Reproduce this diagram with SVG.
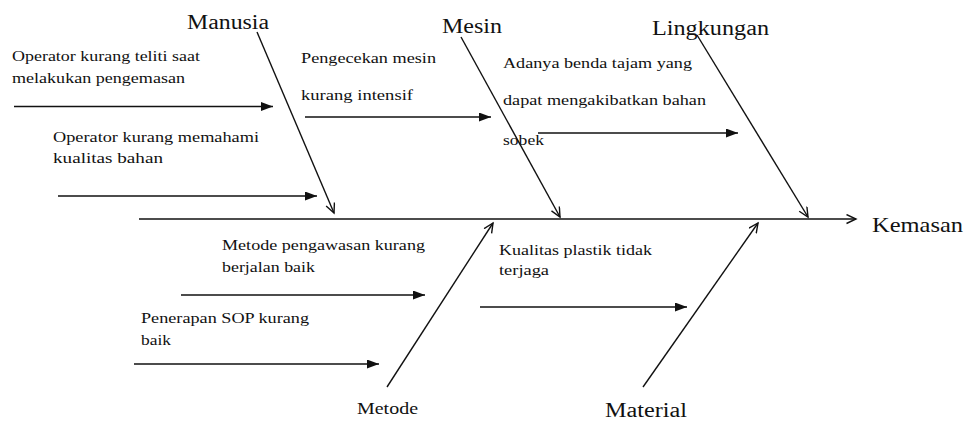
<svg xmlns="http://www.w3.org/2000/svg" width="964" height="421" viewBox="0 0 964 421">
<style>
.s{font-size:15.5px;}
.c{font-size:20px;}
.ln{stroke:#111;stroke-width:1.4;fill:none;}
</style>
<defs>
<marker id="tri" markerUnits="userSpaceOnUse" markerWidth="13" markerHeight="10" refX="12" refY="4.5" orient="auto">
<path d="M0,0 L12,4.5 L0,9 z" fill="#111"/>
</marker>
<marker id="open" markerUnits="userSpaceOnUse" markerWidth="14" markerHeight="14" refX="10" refY="5" orient="auto">
<path d="M0.5,0.5 L10,5 L0.5,9.5" fill="none" stroke="#111" stroke-width="1.4"/>
</marker>
</defs>
<rect width="964" height="421" fill="#fff"/>
<g id="connectors">
<line class="ln" x1="139" y1="219" x2="856" y2="219" marker-end="url(#open)"/>
<line class="ln" x1="257" y1="32" x2="334" y2="213" marker-end="url(#open)"/>
<line class="ln" x1="461" y1="37" x2="560" y2="217" marker-end="url(#open)"/>
<line class="ln" x1="697" y1="35" x2="808" y2="217" marker-end="url(#open)"/>
<line class="ln" x1="387" y1="387" x2="493" y2="223" marker-end="url(#open)"/>
<line class="ln" x1="643" y1="387" x2="758" y2="223" marker-end="url(#open)"/>
<line class="ln" x1="14" y1="106.5" x2="273" y2="106.5" marker-end="url(#tri)"/>
<line class="ln" x1="58" y1="196" x2="317" y2="196" marker-end="url(#tri)"/>
<line class="ln" x1="305" y1="117" x2="491" y2="117" marker-end="url(#tri)"/>
<line class="ln" x1="538" y1="133" x2="738" y2="133" marker-end="url(#tri)"/>
<line class="ln" x1="181" y1="295" x2="425" y2="295" marker-end="url(#tri)"/>
<line class="ln" x1="134" y1="364" x2="379" y2="364" marker-end="url(#tri)"/>
<line class="ln" x1="480" y1="307" x2="687" y2="307" marker-end="url(#tri)"/>
</g>
<g font-family="Liberation Serif, serif" fill="#111">
<g id="effect"><text x="872" y="232" font-size="21" textLength="91" lengthAdjust="spacingAndGlyphs">Kemasan</text></g>
<g id="cat-manusia"><text class="c" x="187" y="29" textLength="82" lengthAdjust="spacingAndGlyphs">Manusia</text></g>
<g id="cat-mesin"><text class="c" x="442" y="33" textLength="60" lengthAdjust="spacingAndGlyphs">Mesin</text></g>
<g id="cat-lingkungan"><text class="c" x="652" y="35" textLength="117" lengthAdjust="spacingAndGlyphs">Lingkungan</text></g>
<g id="cat-metode"><text x="357" y="414" font-size="17" textLength="61" lengthAdjust="spacingAndGlyphs">Metode</text></g>
<g id="cat-material"><text class="c" x="605" y="417" textLength="82" lengthAdjust="spacingAndGlyphs">Material</text></g>
<g id="cause-m1">
<text class="s" x="12" y="61" textLength="188" lengthAdjust="spacingAndGlyphs">Operator kurang teliti saat</text>
<text class="s" x="12" y="83" textLength="173" lengthAdjust="spacingAndGlyphs">melakukan pengemasan</text>
</g>
<g id="cause-m2">
<text class="s" x="53" y="142" textLength="206" lengthAdjust="spacingAndGlyphs">Operator kurang memahami</text>
<text class="s" x="53" y="163" textLength="110" lengthAdjust="spacingAndGlyphs">kualitas bahan</text>
</g>
<g id="cause-mesin">
<text class="s" x="301" y="63" textLength="135" lengthAdjust="spacingAndGlyphs">Pengecekan mesin</text>
<text class="s" x="301" y="100" textLength="112" lengthAdjust="spacingAndGlyphs">kurang intensif</text>
</g>
<g id="cause-lingkungan">
<text class="s" x="503" y="68" textLength="189" lengthAdjust="spacingAndGlyphs">Adanya benda tajam yang</text>
<text class="s" x="503" y="105" textLength="203" lengthAdjust="spacingAndGlyphs">dapat mengakibatkan bahan</text>
<text class="s" x="503" y="145" textLength="41" lengthAdjust="spacingAndGlyphs">sobek</text>
</g>
<g id="cause-metode1">
<text class="s" x="222" y="250" textLength="203" lengthAdjust="spacingAndGlyphs">Metode pengawasan kurang</text>
<text class="s" x="222" y="272" textLength="93" lengthAdjust="spacingAndGlyphs">berjalan baik</text>
</g>
<g id="cause-metode2">
<text class="s" x="141" y="323" textLength="168" lengthAdjust="spacingAndGlyphs">Penerapan SOP kurang</text>
<text class="s" x="141" y="345" textLength="30" lengthAdjust="spacingAndGlyphs">baik</text>
</g>
<g id="cause-material">
<text class="s" x="499" y="255" textLength="153" lengthAdjust="spacingAndGlyphs">Kualitas plastik tidak</text>
<text class="s" x="499" y="275" textLength="50" lengthAdjust="spacingAndGlyphs">terjaga</text>
</g>
</g>
</svg>
